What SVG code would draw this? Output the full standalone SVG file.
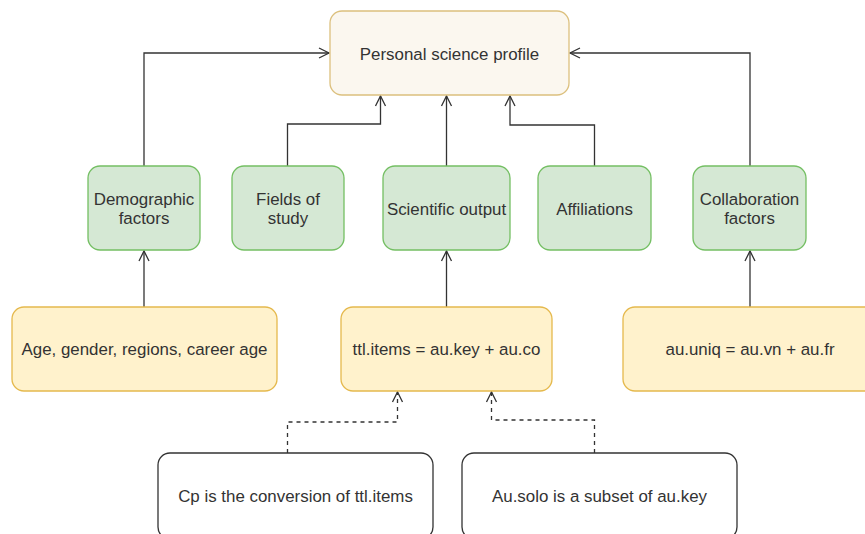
<svg xmlns="http://www.w3.org/2000/svg" width="865" height="534" viewBox="0 0 865 534">
<defs>
<style>
text{font-family:"Liberation Sans",Arial,sans-serif;font-size:16.9px;fill:#333;text-anchor:middle}
.top{fill:#fbf7ef;stroke:#dcc07e;stroke-width:1.3}
.green{fill:#d5e8d4;stroke:#74bf63;stroke-width:1.3}
.yellow{fill:#fff2cc;stroke:#e5b94d;stroke-width:1.3}
.white{fill:#ffffff;stroke:#333;stroke-width:1.3}
.edge{fill:none;stroke:#333;stroke-width:1.3;marker-end:url(#open)}
.dash{stroke-dasharray:4 4}
</style>
<marker id="open" markerUnits="userSpaceOnUse" markerWidth="14" markerHeight="14" viewBox="0 0 14 14" refX="11" refY="7" orient="auto">
<path d="M1,2 L11,7 L1,12" fill="none" stroke="#333" stroke-width="1.3"/>
</marker>
</defs>
<rect width="865" height="534" fill="#ffffff"/>
<g id="connectors">
<path class="edge" d="M144,166 V53 H329"/>
<path class="edge" d="M750,166 V53 H570"/>
<path class="edge" d="M287.5,166 V124 H380.5 V96"/>
<path class="edge" d="M446.5,166 V96"/>
<path class="edge" d="M594.5,166 V125 H510 V96"/>
<path class="edge" d="M144,307 V251"/>
<path class="edge" d="M446.5,307 V251"/>
<path class="edge" d="M750,307 V251"/>
<path class="edge dash" d="M287.5,453 V422 H397.5 V392"/>
<path class="edge dash" d="M594.5,453 V420 H491.5 V392"/>
</g>
<g id="profile"><rect class="top" x="330" y="11" width="239" height="84" rx="12"/><text x="449.5" y="60">Personal science profile</text></g>
<g id="demographic"><rect class="green" x="88" y="166" width="112" height="84" rx="12"/><text x="144" y="205">Demographic</text><text x="144" y="224">factors</text></g>
<g id="fields"><rect class="green" x="232" y="166" width="112" height="84" rx="12"/><text x="288" y="205">Fields of</text><text x="288" y="224">study</text></g>
<g id="scientific"><rect class="green" x="383" y="166" width="127" height="84" rx="12"/><text x="446.5" y="215">Scientific output</text></g>
<g id="affiliations"><rect class="green" x="538" y="166" width="113" height="84" rx="12"/><text x="594.5" y="215">Affiliations</text></g>
<g id="collaboration"><rect class="green" x="693" y="166" width="113" height="84" rx="12"/><text x="749.5" y="205">Collaboration</text><text x="749.5" y="224">factors</text></g>
<g id="age"><rect class="yellow" x="12" y="307" width="265" height="84" rx="12"/><text x="144.5" y="355">Age, gender, regions, career age</text></g>
<g id="ttl"><rect class="yellow" x="341" y="307" width="211" height="84" rx="12"/><text x="446.5" y="355">ttl.items = au.key + au.co</text></g>
<g id="auuniq"><rect class="yellow" x="623" y="307" width="254" height="84" rx="12"/><text x="750" y="355">au.uniq = au.vn + au.fr</text></g>
<g id="cp"><rect class="white" x="158" y="453" width="275" height="86" rx="12"/><text x="295.5" y="502">Cp is the conversion of ttl.items</text></g>
<g id="ausolo"><rect class="white" x="462" y="453" width="275" height="86" rx="12"/><text x="599.5" y="502">Au.solo is a subset of au.key</text></g>
</svg>
